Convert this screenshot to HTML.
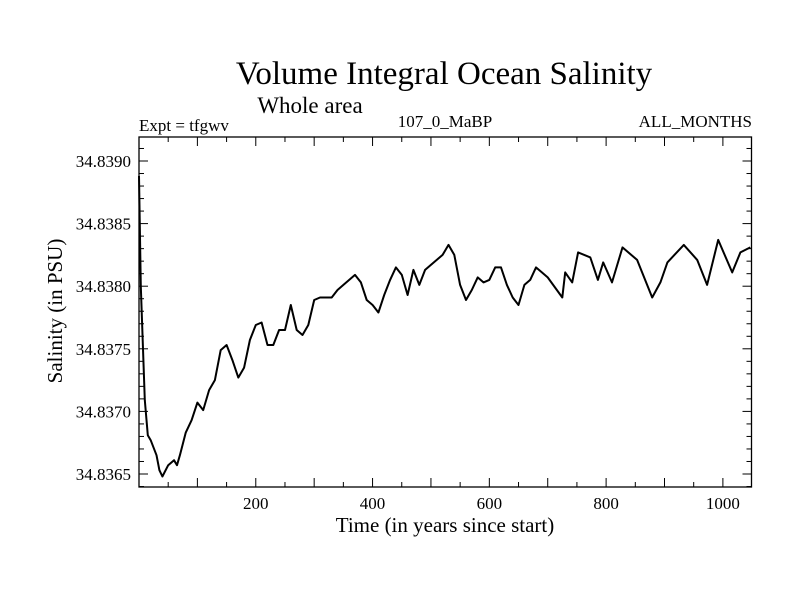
<!DOCTYPE html>
<html><head><meta charset="utf-8"><style>
body{margin:0;background:#fff}
svg{display:block;font-family:"Liberation Serif",serif}
</style></head><body>
<svg id="chart" width="800" height="600" viewBox="0 0 800 600">
<text x="444" y="84" font-size="33" text-anchor="middle">Volume Integral Ocean Salinity</text>
<text x="310" y="113" font-size="23" text-anchor="middle">Whole area</text>
<text x="139" y="131" font-size="17">Expt = tfgwv</text>
<text x="445" y="127" font-size="17" text-anchor="middle">107_0_MaBP</text>
<text x="752" y="127" font-size="17" text-anchor="end">ALL_MONTHS</text>
<text x="445" y="532" font-size="21" text-anchor="middle">Time (in years since start)</text>
<text transform="translate(62,311) rotate(-90)" font-size="21" text-anchor="middle">Salinity (in PSU)</text>
<rect x="139" y="137" width="612.5" height="350" fill="none" stroke="#000" stroke-width="1.3"/>
<g id="ticks"></g>
<path id="line" fill="none" stroke="#000" stroke-width="2" stroke-linejoin="round"/>
</svg>
<script>
const years=[0,3,10,15,20,30,35,40,50,60,65,70,80,90,100,110,120,130,140,150,160,170,180,190,200,210,220,230,240,250,260,270,280,290,300,310,320,330,340,350,360,370,380,390,400,410,420,430,440,450,460,470,480,490,500,520,530,540,550,560,570,580,590,600,610,620,630,640,650,660,670,680,690,700,725,730,742,752,773,786,795,810,828,853,879,893,905,933,956,973,992,1016,1030,1047];
const salinity=[34.83888,34.83800,34.83709,34.83681,34.83677,34.83665,34.83653,34.83648,34.83657,34.83661,34.83657,34.83665,34.83683,34.83693,34.83707,34.83701,34.83717,34.83725,34.83749,34.83753,34.83741,34.83727,34.83735,34.83757,34.83769,34.83771,34.83753,34.83753,34.83765,34.83765,34.83785,34.83765,34.83761,34.83769,34.83789,34.83791,34.83791,34.83791,34.83797,34.83801,34.83805,34.83809,34.83803,34.83789,34.83785,34.83779,34.83793,34.83805,34.83815,34.83809,34.83793,34.83813,34.83801,34.83813,34.83817,34.83825,34.83833,34.83825,34.83801,34.83789,34.83797,34.83807,34.83803,34.83805,34.83815,34.83815,34.83801,34.83791,34.83785,34.83801,34.83805,34.83815,34.83811,34.83807,34.83791,34.83811,34.83803,34.83827,34.83823,34.83805,34.83819,34.83803,34.83831,34.83821,34.83791,34.83803,34.83819,34.83833,34.83821,34.83801,34.83837,34.83811,34.83827,34.83831];
const xTicks=[200,400,600,800,1000];
const yTicks=[34.8365,34.837,34.8375,34.838,34.8385,34.839];
const X=v=>139+v*(612.5/1049);
const Y=v=>161+(34.839-v)*125200;
const ns="http://www.w3.org/2000/svg";
const svg=document.getElementById('chart');
const g=document.getElementById('ticks');
function ln(x1,y1,x2,y2){const l=document.createElementNS(ns,'line');l.setAttribute('x1',x1);l.setAttribute('y1',y1);l.setAttribute('x2',x2);l.setAttribute('y2',y2);l.setAttribute('stroke','#000');l.setAttribute('stroke-width','1');


g.appendChild(l);}
for(let t=50;t<1049;t+=50){const x=X(t);const L=t%100===0?9:5;ln(x,487,x,487-L);ln(x,137,x,137+L);}
for(let v=34.8364;v<34.8392;v+=0.0001){const y=Y(v);const major=Math.abs(Math.round(v*2000)-v*2000)<1e-6;const L=major?9:5;ln(139,y,139+L,y);ln(751.5,y,751.5-L,y);}
xTicks.forEach(t=>{const e=document.createElementNS(ns,'text');e.setAttribute('x',X(t));e.setAttribute('y',509);e.setAttribute('font-size','17');e.setAttribute('text-anchor','middle');e.textContent=t;


svg.appendChild(e);});
yTicks.forEach(v=>{const e=document.createElementNS(ns,'text');e.setAttribute('x',131);e.setAttribute('y',Y(v)+6);e.setAttribute('font-size','17');e.setAttribute('text-anchor','end');e.textContent=v.toFixed(4);


svg.appendChild(e);});
document.getElementById('line').setAttribute('d',years.map((t,i)=>(i?'L':'M')+X(t).toFixed(1)+','+Y(salinity[i]).toFixed(1)).join(''));
</script>
</body></html>
